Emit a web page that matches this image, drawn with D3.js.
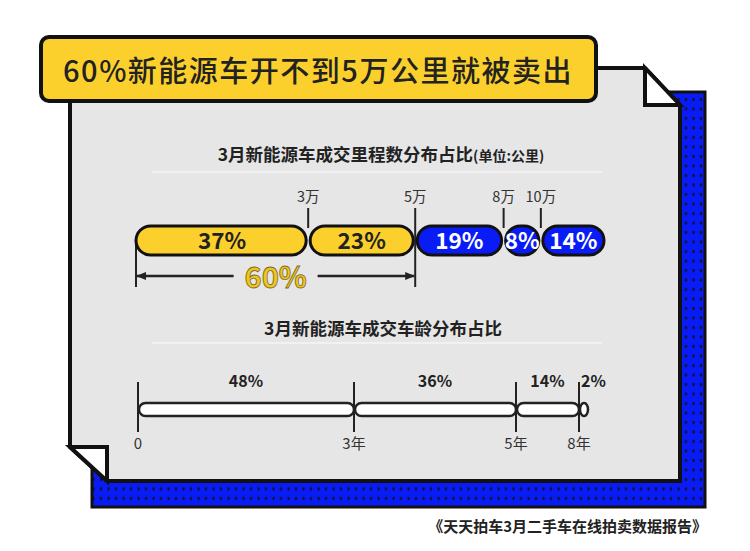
<!DOCTYPE html>
<html>
<head>
<meta charset="utf-8">
<script src="https://cdn.jsdelivr.net/npm/d3@7"></script>
<style>
  body { margin: 0; background: #fff; }
  svg { display: block; font-family: "Noto Sans CJK SC", "Noto Sans", sans-serif; }
</style>
</head>
<body>
<div class="chart"></div>
<script>
const title = "60%新能源车开不到5万公里就被卖出";
const mileageTitle = "3月新能源车成交里程数分布占比";
const mileageUnit = "(单位:公里)";
const mileageShares = [37, 23, 19, 8, 14];
const mileageColors = ["yellow", "yellow", "blue", "blue", "blue"];
const mileageTicks = ["3万", "5万", "8万", "10万"];
const under5Share = "60%";
const ageTitle = "3月新能源车成交车龄分布占比";
const ageShares = [48, 36, 14, 2];
const ageTicks = ["0", "3年", "5年", "8年"];
const source = "《天天拍车3月二手车在线拍卖数据报告》";

const width = 750;
const height = 551;
const yellow = "#fcd02c";
const blue = "#0a1cf5";
const ink = "#222";

const svg = d3.select(".chart").append("svg")
  .attr("width", width)
  .attr("height", height);

const defs = svg.append("defs");
const pat = defs.append("pattern")
  .attr("id", "dots")
  .attr("patternUnits", "userSpaceOnUse")
  .attr("width", 7.5).attr("height", 9.5);
pat.append("rect").attr("width", 7.5).attr("height", 9.5).attr("fill", blue);
pat.append("rect").attr("x", 2.5).attr("y", 3).attr("width", 2).attr("height", 3).attr("fill", "#111");

defs.append("marker")
  .attr("id", "arrow-end")
  .attr("viewBox", "0 0 10 10")
  .attr("refX", 9).attr("refY", 5)
  .attr("markerWidth", 4).attr("markerHeight", 4)
  .attr("orient", "auto")
  .append("path")
  .attr("d", "M0,1 L10,5 L0,9 Z")
  .attr("fill", ink);

// blue dotted shadow
svg.append("rect")
  .attr("x", 92).attr("y", 92)
  .attr("width", 613).attr("height", 415)
  .attr("fill", "url(#dots)")
  .attr("stroke", "#111").attr("stroke-width", 3);

// gray page with folded corners
svg.append("path")
  .attr("d", "M70,68 L645,68 L680,105 L680,481 L107,481 L70,447 Z")
  .attr("fill", "#e6e6e6")
  .attr("stroke", "#111").attr("stroke-width", 4)
  .attr("stroke-linejoin", "miter");
svg.append("path")
  .attr("d", "M645,68 L645,105 L680,105 Z")
  .attr("fill", "#fff").attr("stroke", "#111").attr("stroke-width", 4);
svg.append("path")
  .attr("d", "M70,447 L107,447 L107,481 Z")
  .attr("fill", "#fff").attr("stroke", "#111").attr("stroke-width", 4);

// title box
svg.append("rect")
  .attr("x", 41).attr("y", 37)
  .attr("width", 555).attr("height", 64)
  .attr("rx", 8)
  .attr("fill", yellow)
  .attr("stroke", "#111").attr("stroke-width", 4);
svg.append("text")
  .attr("x", 318).attr("y", 82)
  .attr("text-anchor", "middle")
  .attr("font-size", 29)
  .attr("font-weight", 500)
  .attr("letter-spacing", 1.5)
  .attr("fill", ink)
  .text(title);

// ---------- mileage chart ----------
const xMile = d3.scaleLinear().domain([0, d3.sum(mileageShares)]).range([136, 606]);
const cumMile = d3.cumsum(mileageShares);
const startsMile = [0].concat(Array.from(cumMile).slice(0, -1));

const t1 = svg.append("text")
  .attr("x", 381).attr("y", 161)
  .attr("text-anchor", "middle")
  .attr("font-weight", 700)
  .attr("fill", ink);
t1.append("tspan").attr("font-size", 17.5).text(mileageTitle);
t1.append("tspan").attr("font-size", 14).text(mileageUnit);

svg.append("line")
  .attr("x1", 152).attr("x2", 602)
  .attr("y1", 172).attr("y2", 172)
  .attr("stroke", "#f4f4f4").attr("stroke-width", 1.5);

const barY = 226, barH = 29;
const mile = svg.append("g").attr("class", "mileage");

// tick lines at segment borders
mile.selectAll(".tick")
  .data(mileageTicks).enter()
  .append("line")
  .attr("x1", (d, i) => xMile(cumMile[i]))
  .attr("x2", (d, i) => xMile(cumMile[i]))
  .attr("y1", 208)
  .attr("y2", (d, i) => i === 1 ? 287 : barY + 2)
  .attr("stroke", ink).attr("stroke-width", 2);

mile.selectAll(".tick-label")
  .data(mileageTicks).enter()
  .append("text")
  .attr("x", (d, i) => xMile(cumMile[i]))
  .attr("y", 202)
  .attr("text-anchor", "middle")
  .attr("font-size", 14.5)
  .attr("fill", "#333")
  .text((d) => d);

mile.append("line")
  .attr("x1", xMile(0)).attr("x2", xMile(0))
  .attr("y1", barY + barH / 2).attr("y2", 287)
  .attr("stroke", ink).attr("stroke-width", 2);

mile.selectAll(".seg")
  .data(mileageShares).enter()
  .append("rect")
  .attr("x", (d, i) => xMile(startsMile[i]) + (i === 0 ? 0 : 2))
  .attr("y", barY)
  .attr("width", (d, i) => xMile(cumMile[i]) - xMile(startsMile[i]) - (i === 0 ? 2 : 4))
  .attr("height", barH)
  .attr("rx", barH / 2)
  .attr("fill", (d, i) => mileageColors[i] === "yellow" ? yellow : blue)
  .attr("stroke", "#111").attr("stroke-width", 3);

mile.selectAll(".seg-label")
  .data(mileageShares).enter()
  .append("text")
  .attr("x", (d, i) => (xMile(startsMile[i]) + xMile(cumMile[i])) / 2)
  .attr("y", barY + barH / 2 + 8)
  .attr("text-anchor", "middle")
  .attr("font-size", 22.5)
  .attr("font-weight", 700)
  .attr("fill", (d, i) => mileageColors[i] === "yellow" ? ink : "#fff")
  .text((d) => d + "%");

// 60% bracket
const midX = (xMile(0) + xMile(cumMile[1])) / 2;
mile.append("line")
  .attr("x1", midX - 42).attr("x2", xMile(0) + 1)
  .attr("y1", 276).attr("y2", 276)
  .attr("stroke", ink).attr("stroke-width", 2.5)
  .attr("marker-end", "url(#arrow-end)");
mile.append("line")
  .attr("x1", midX + 42).attr("x2", xMile(cumMile[1]) - 1)
  .attr("y1", 276).attr("y2", 276)
  .attr("stroke", ink).attr("stroke-width", 2.5)
  .attr("marker-end", "url(#arrow-end)");
mile.append("text")
  .attr("x", midX).attr("y", 288)
  .attr("text-anchor", "middle")
  .attr("font-size", 29)
  .attr("font-weight", 700)
  .attr("fill", "#f0c51e")
  .attr("stroke", "#7d6c1c").attr("stroke-width", 0.8)
  .text(under5Share);

// ---------- age chart ----------
const xAge = d3.scaleLinear().domain([0, d3.sum(ageShares)]).range([138, 588]);
const cumAge = d3.cumsum(ageShares);
const startsAge = [0].concat(Array.from(cumAge).slice(0, -1));

svg.append("text")
  .attr("x", 383).attr("y", 335)
  .attr("text-anchor", "middle")
  .attr("font-size", 17.5)
  .attr("font-weight", 700)
  .attr("fill", ink)
  .text(ageTitle);

svg.append("line")
  .attr("x1", 152).attr("x2", 602)
  .attr("y1", 343).attr("y2", 343)
  .attr("stroke", "#f4f4f4").attr("stroke-width", 1.5);

const ageY = 403, ageH = 13;
const age = svg.append("g").attr("class", "age");

age.selectAll(".tick")
  .data(ageTicks).enter()
  .append("line")
  .attr("x1", (d, i) => xAge(startsAge[i]))
  .attr("x2", (d, i) => xAge(startsAge[i]))
  .attr("y1", 382).attr("y2", 432)
  .attr("stroke", ink).attr("stroke-width", 2);

age.selectAll(".seg")
  .data(ageShares).enter()
  .append("rect")
  .attr("x", (d, i) => xAge(startsAge[i]) + 1)
  .attr("y", ageY)
  .attr("width", (d, i) => xAge(cumAge[i]) - xAge(startsAge[i]) - 1)
  .attr("height", ageH)
  .attr("rx", ageH / 2)
  .attr("fill", "#fff")
  .attr("stroke", ink).attr("stroke-width", 2.5);

age.selectAll(".tick-label")
  .data(ageTicks).enter()
  .append("text")
  .attr("x", (d, i) => xAge(startsAge[i]))
  .attr("y", 449)
  .attr("text-anchor", "middle")
  .attr("font-size", 15)
  .attr("fill", "#333")
  .text((d) => d);

age.selectAll(".seg-label")
  .data(ageShares).enter()
  .append("text")
  .attr("x", (d, i) => d < 5 ? xAge(startsAge[i]) + 2 : (xAge(startsAge[i]) + xAge(cumAge[i])) / 2)
  .attr("y", 387)
  .attr("text-anchor", (d) => d < 5 ? "start" : "middle")
  .attr("font-size", 16)
  .attr("font-weight", 700)
  .attr("fill", ink)
  .text((d) => d + "%");

// source
svg.append("text")
  .attr("x", 707).attr("y", 532)
  .attr("text-anchor", "end")
  .attr("font-size", 15)
  .attr("font-weight", 700)
  .attr("fill", ink)
  .text(source);
</script>
</body>
</html>
